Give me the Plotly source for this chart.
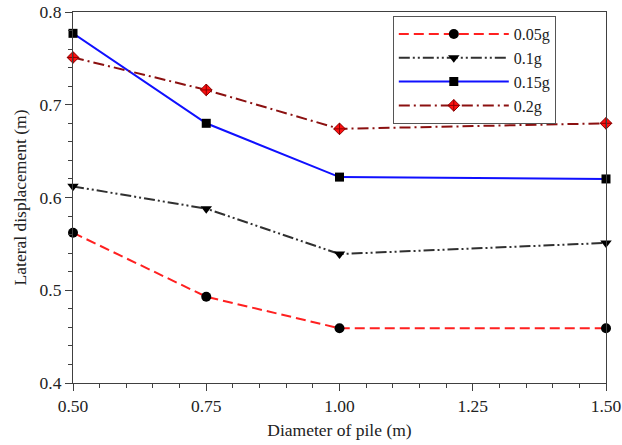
import plotly.graph_objects as go

diameters = [0.50, 0.75, 1.00, 1.50]
series_names = ["0.05g", "0.1g", "0.15g", "0.2g"]
disp_005g = [0.562, 0.493, 0.459, 0.459]
disp_01g = [0.612, 0.588, 0.539, 0.551]
disp_015g = [0.777, 0.680, 0.622, 0.620]
disp_02g = [0.751, 0.716, 0.674, 0.680]

x_ticks = [0.50, 0.75, 1.00, 1.25, 1.50]
x_ticklabels = ["0.50", "0.75", "1.00", "1.25", "1.50"]
y_ticks = [0.4, 0.5, 0.6, 0.7, 0.8]
y_ticklabels = ["0.4", "0.5", "0.6", "0.7", "0.8"]

FONT = "Liberation Serif, Times New Roman, serif"
FS = 17.5

styles = [
    dict(line=dict(color="#FF2020", width=2, dash="10px,5px"),
         marker=dict(symbol="circle", size=10, color="black")),
    dict(line=dict(color="#303030", width=2, dash="11px,3px,2px,3px,2px,3px"),
         marker=dict(symbol="triangle-down", size=10, color="black")),
    dict(line=dict(color="#1010FF", width=2),
         marker=dict(symbol="square", size=9, color="black")),
    dict(line=dict(color="#8B1010", width=2, dash="11px,4px,2px,4px"),
         marker=dict(symbol="diamond-cross", size=9, color="#FF1010",
                     line=dict(color="#8B0000", width=1))),
]

fig = go.Figure()
for name, ys, st in zip(series_names, [disp_005g, disp_01g, disp_015g, disp_02g], styles):
    fig.add_trace(go.Scatter(x=diameters, y=ys, name=name, mode="lines+markers",
                             line=st["line"], marker=st["marker"], cliponaxis=False))

axis_common = dict(showline=True, linecolor="#404040", linewidth=1.2, mirror=True,
                   showgrid=False, zeroline=False, ticks="outside", ticklen=7,
                   automargin=False,
                   tickcolor="#404040", tickfont=dict(family=FONT, size=FS, color="#222"))

fig.update_xaxes(range=[0.5, 1.5], tickvals=x_ticks, ticktext=x_ticklabels,
                 minor=dict(ticks="outside", ticklen=4, dtick=0.05, tick0=0.5, tickcolor="#404040"),
                 title=dict(text="Diameter of pile (m)", font=dict(family=FONT, size=FS, color="#222"),
                            standoff=8),
                 **axis_common)
fig.update_yaxes(range=[0.4, 0.8], tickvals=y_ticks, ticktext=y_ticklabels,
                 minor=dict(ticks="outside", ticklen=4, dtick=0.02, tick0=0.4, tickcolor="#404040"),
                 title=dict(text="Lateral displacement (m)", font=dict(family=FONT, size=FS, color="#222"),
                            standoff=8),
                 **axis_common)

fig.update_layout(
    width=622, height=445,
    margin=dict(l=73, r=16, t=12, b=62),
    paper_bgcolor="white", plot_bgcolor="white",
    showlegend=True,
    legend=dict(x=0.6, y=0.989, xanchor="left", yanchor="top",
                bordercolor="#555", borderwidth=1, bgcolor="white",
                font=dict(family=FONT, size=16, color="#222"),
                itemwidth=110, tracegroupgap=0),
)

fig.write_html("out.html")
